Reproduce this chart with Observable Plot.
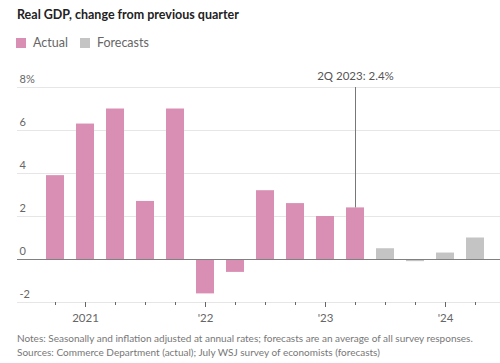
<!DOCTYPE html>
<html><head><meta charset="utf-8">
<script src="https://cdn.jsdelivr.net/npm/d3@7"></script>
<script src="https://cdn.jsdelivr.net/npm/@observablehq/plot@0.6"></script>
<style>
body{margin:0;background:#fff;font-family:Lato,"Noto Sans",sans-serif;}
#wrap{width:500px;height:363px;position:relative;overflow:hidden;}
#title{position:absolute;left:17px;top:7px;font-size:12.5px;font-weight:bold;color:#222;}
#legend{position:absolute;left:16px;top:35px;font-size:12.5px;color:#666;display:flex;align-items:center;}
#legend span.sw{display:inline-block;width:10px;height:10px;margin-right:7px;}
#legend span.lb{margin-right:12px;}
#chart{position:absolute;left:0;top:60px;}
#notes{position:absolute;left:17px;top:331px;font-size:10px;color:#777;line-height:14px;}
</style></head>
<body><div id="wrap">
<div id="title">Real GDP, change from previous quarter</div>
<div id="legend"><span class="sw" style="background:#d98fb4"></span><span class="lb">Actual</span><span class="sw" style="background:#c4c4c4"></span><span class="lb">Forecasts</span></div>
<div id="chart"></div>
<div id="notes">Notes: Seasonally and inflation adjusted at annual rates; forecasts are an average of all survey responses.<br>Sources: Commerce Department (actual); July WSJ survey of economists (forecasts)</div>
</div>
<script>
const quarters = ["2020Q4","2021Q1","2021Q2","2021Q3","2021Q4","2022Q1","2022Q2","2022Q3","2022Q4","2023Q1","2023Q2","2023Q3","2023Q4","2024Q1","2024Q2"];
const values = [3.9, 6.3, 7.0, 2.7, 7.0, -1.6, -0.6, 3.2, 2.6, 2.0, 2.4, 0.5, -0.1, 0.3, 1.0];
const kinds = ["Actual","Actual","Actual","Actual","Actual","Actual","Actual","Actual","Actual","Actual","Actual","Forecasts","Forecasts","Forecasts","Forecasts"];
const yTicks = [-2, 0, 2, 4, 6, 8];
const yTickLabels = ["-2", "0", "2", "4", "6", "8%"];
const yearTicks = ["2021Q1","2022Q1","2023Q1","2024Q1"];
const yearLabels = {"2021Q1":"2021","2022Q1":"'22","2023Q1":"'23","2024Q1":"'24"};
const annotation = [{q:"2023Q2", v:2.4, top:8, label:"2Q 2023: 2.4%"}];

const data = quarters.map((q,i)=>({q, v:values[i], kind:kinds[i]}));
const gridVals = yTicks.filter(d=>d!==0);

const chart = Plot.plot({
  width: 500, height: 264,
  marginLeft: 17, marginRight: 0, marginTop: 27, marginBottom: 22,
  style: {fontFamily: "Lato, 'Noto Sans', sans-serif", fontSize: "11px", color:"#666", background:"#fff"},
  x: {type:"band", domain: quarters, range:[31, 499], padding:0.4, axis:null, label:null},
  y: {domain:[-2, 8], axis:null, label:null},
  color: {domain:["Actual","Forecasts"], range:["#d98fb4","#c4c4c4"]},
  marks: [
    Plot.ruleY(gridVals, {stroke:"#e6e6e6", strokeWidth:1}),
    Plot.text(yTicks, {y: d=>d, text:(d,i)=>yTickLabels[i], frameAnchor:"left", textAnchor:"start", dx:2, dy:-8, fill:"#666", fontSize:11}),
    Plot.barY(data, {x:"q", y:"v", fill:"kind"}),
    Plot.ruleY([0], {stroke:"#808080", strokeWidth:1.2}),
    Plot.axisX(quarters, {tickSize:3, tickFormat:()=>"", stroke:"#666", tickPadding:0, label:null}),
    Plot.axisX(yearTicks, {tickSize:5, tickFormat:d=>yearLabels[d], stroke:"#666", fill:"#666", tickPadding:6, fontSize:11.5, label:null}),
    Plot.ruleX(annotation, {x:"q", y1:"top", y2:"v", stroke:"#777", strokeWidth:1}),
    Plot.text(annotation, {x:"q", y:"top", text:"label", dy:-11, fill:"#555", fontSize:11.5})
  ]
});
document.getElementById("chart").appendChild(chart);
</script>
</body></html>
